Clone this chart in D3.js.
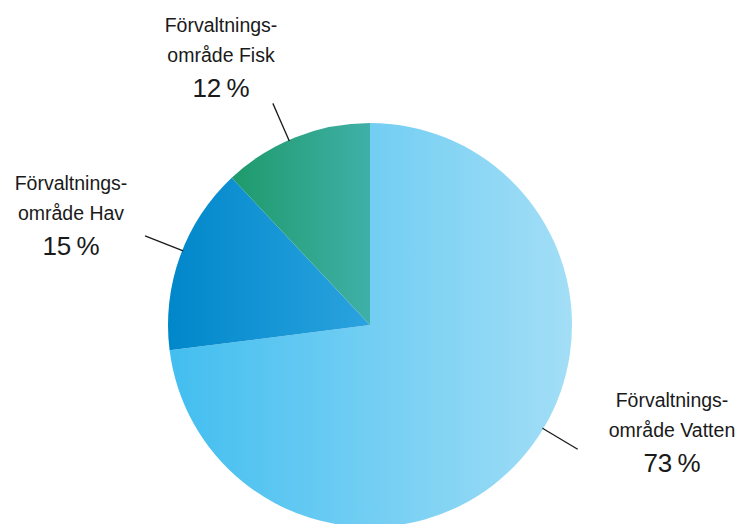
<!DOCTYPE html>
<meta charset="utf-8">
<script src="https://d3js.org/d3.v7.min.js"></script>
<style>
  body { margin: 0; background: #fff; }
  text { font-family: "Liberation Sans", Arial, sans-serif; fill: #1a1a1a; }
</style>
<body>
<div id="chart"></div>
<script>
// data
var names = ["Vatten", "Hav", "Fisk"];
var labelLines = [["Förvaltnings-", "område Vatten"], ["Förvaltnings-", "område Hav"], ["Förvaltnings-", "område Fisk"]];
var shares = [73, 15, 12];
var pctLabels = ["73\u2009%", "15\u2009%", "12\u2009%"];
var gradStops = [["#42bef0", "#a3def6"], ["#0087ca", "#2ba3df"], ["#1e9a6b", "#3fb0a8"]];

var width = 744, height = 524;
var cx = 370, cy = 325, r = 202;

var svg = d3.select("#chart").append("svg")
  .attr("width", width)
  .attr("height", height);

var defs = svg.append("defs");
gradStops.forEach(function(s, i) {
  var g = defs.append("linearGradient")
    .attr("id", "grad" + i)
    .attr("x1", 0).attr("y1", 0).attr("x2", 1).attr("y2", 0);
  g.append("stop").attr("offset", "0%").attr("stop-color", s[0]);
  g.append("stop").attr("offset", "100%").attr("stop-color", s[1]);
});

var pie = d3.pie().sort(null).value(function(d) { return d; });
var arcs = pie(shares);
var arc = d3.arc().innerRadius(0).outerRadius(r);

var g = svg.append("g").attr("transform", "translate(" + cx + "," + cy + ")");

g.selectAll("path")
  .data(arcs)
  .enter()
  .append("path")
    .attr("d", arc)
    .attr("fill", function(d, i) { return "url(#grad" + i + ")"; });

// leader lines, one per slice, angle picked by hand (radians, clockwise from top)
var leaderAngles = [2.11, 5.09, 5.87];
var r1 = r - 1, r2 = r + 40;

g.selectAll("line.leader")
  .data(arcs)
  .enter()
  .append("line")
    .attr("class", "leader")
    .attr("x1", function(d, i) { return Math.sin(leaderAngles[i]) * r1; })
    .attr("y1", function(d, i) { return -Math.cos(leaderAngles[i]) * r1; })
    .attr("x2", function(d, i) { return Math.sin(leaderAngles[i]) * r2; })
    .attr("y2", function(d, i) { return -Math.cos(leaderAngles[i]) * r2; })
    .attr("stroke", "#1a1a1a")
    .attr("stroke-width", 1.3);

// label positions (first baseline of each block)
var labelPos = [[672, 407], [71, 190], [221, 32]];

labelLines.forEach(function(lines, i) {
  var t = svg.append("g").attr("transform", "translate(" + labelPos[i][0] + "," + labelPos[i][1] + ")");
  lines.forEach(function(l, j) {
    t.append("text")
      .attr("text-anchor", "middle")
      .attr("y", j * 30)
      .attr("font-size", "19.5px")
      .text(l);
  });
  t.append("text")
    .attr("text-anchor", "middle")
    .attr("y", 30 + 35)
    .attr("font-size", "26px")
    .text(pctLabels[i]);
});
</script>
</body>
